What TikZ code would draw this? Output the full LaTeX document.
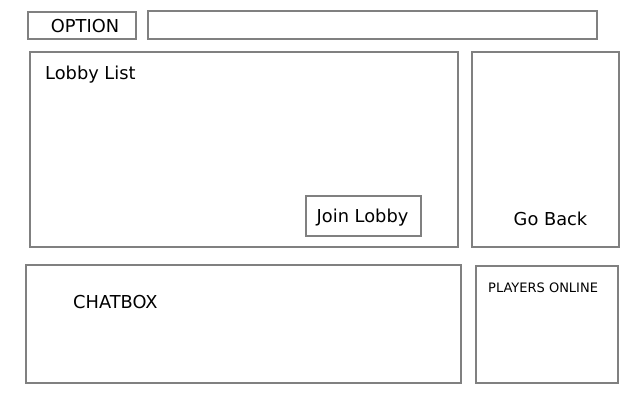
\documentclass[tikz,border=0pt]{standalone}
\usepackage{fontspec}
\setmainfont{DejaVu Sans}
\begin{document}
\begin{tikzpicture}[x=1pt,y=-1pt,
  box/.style={draw=black!50,line width=1.6pt},
  lbl/.style={font=\fontsize{17.8}{20}\selectfont,inner sep=0pt},
  small/.style={font=\fontsize{13}{15}\selectfont,inner sep=0pt}]
\useasboundingbox[fill=white] (0,0) rectangle (640,400);
\draw[box] (28,12) rectangle (136,39);
\node[lbl] (option) at (85,26) {OPTION};
\draw[box] (148,11) rectangle (597,39);
\draw[box] (30,52) rectangle (458,247);
\node[lbl,anchor=west] (lobby) at (45,74.5) {Lobby List};
\draw[box] (306,196) rectangle (421,236);
\node[lbl] (join) at (362.5,218) {Join Lobby};
\draw[box] (472,52) rectangle (619,247);
\node[lbl] (back) at (550.5,219) {Go Back};
\draw[box] (26,265) rectangle (461,383);
\node[lbl,anchor=west] (chat) at (73,302) {CHATBOX};
\draw[box] (476,266) rectangle (618,383);
\node[small,anchor=west] (players) at (488,287.5) {PLAYERS ONLINE};
\end{tikzpicture}
\end{document}
